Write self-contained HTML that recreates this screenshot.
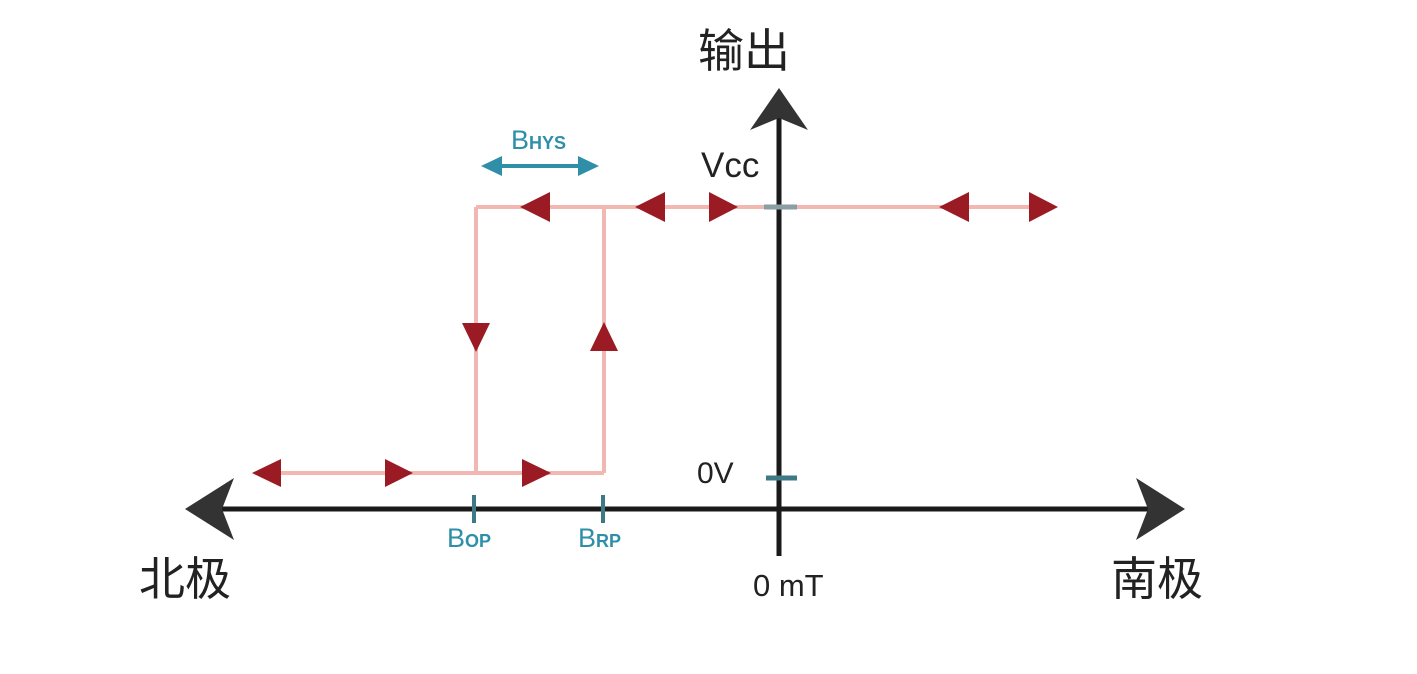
<!DOCTYPE html>
<html><head><meta charset="utf-8"><style>
html,body{margin:0;padding:0;background:#fff;}
svg{display:block;}
text{font-family:"Liberation Sans","Noto Sans CJK SC",sans-serif;}
</style></head><body>
<svg width="1417" height="674" viewBox="0 0 1417 674" xmlns="http://www.w3.org/2000/svg">
<g stroke="#f2b7b0" stroke-width="4" fill="none">
<line x1="476" y1="207" x2="1050" y2="207"/>
<line x1="476" y1="207" x2="476" y2="473"/>
<line x1="604" y1="207" x2="604" y2="473"/>
<line x1="258" y1="473" x2="604" y2="473"/>
</g>
<g fill="#9b1b24">
<polygon points="252,473 281,459 281,487"/>
<polygon points="413,473 385,459 385,487"/>
<polygon points="551,473 522,459 522,487"/>
<polygon points="476,352 462,323 490,323"/>
<polygon points="604,322 590,351 618,351"/>
<polygon points="520,207 550,192 550,222"/>
<polygon points="635,207 665,192 665,222"/>
<polygon points="738,207 709,192 709,222"/>
<polygon points="939,207 969,192 969,222"/>
<polygon points="1058,207 1029,192 1029,222"/>
</g>
<g stroke="#1a1a1a" stroke-width="5" fill="none">
<line x1="200" y1="509" x2="1170" y2="509"/>
<line x1="779" y1="110" x2="779" y2="556"/>
</g>
<g fill="#333">
<polygon points="185,509 234,478 222,509 234,540"/>
<polygon points="1185,509 1136,478 1148,509 1136,540"/>
<polygon points="779,88 808,130 779,118 750,130"/>
</g>
<line x1="764" y1="207" x2="797" y2="207" stroke="#8a9ea4" stroke-width="5"/>
<line x1="766" y1="478" x2="797" y2="478" stroke="#3e7a86" stroke-width="5"/>
<line x1="474" y1="495" x2="474" y2="523" stroke="#3e7a86" stroke-width="4"/>
<line x1="603" y1="495" x2="603" y2="523" stroke="#3e7a86" stroke-width="4"/>
<line x1="495" y1="166" x2="585" y2="166" stroke="#2f8fa8" stroke-width="4"/>
<polygon points="481,166 502,156 502,176" fill="#2f8fa8"/>
<polygon points="599,166 578,156 578,176" fill="#2f8fa8"/>
<text x="511" y="149" font-size="27" fill="#2f8fa8">B<tspan font-size="18" font-weight="bold">HYS</tspan></text>
<text x="447" y="547" font-size="27" fill="#2f8fa8">B<tspan font-size="18" font-weight="bold">OP</tspan></text>
<text x="578" y="547" font-size="27" fill="#2f8fa8">B<tspan font-size="18" font-weight="bold">RP</tspan></text>
<text x="701" y="177" font-size="35" fill="#222">Vcc</text>
<text x="697" y="483" font-size="30" fill="#222">0V</text>
<text x="753" y="596" font-size="31" fill="#222">0 mT</text>
<text x="698" y="67" font-size="46" fill="#222">输出</text>
<text x="139" y="595" font-size="46" fill="#222">北极</text>
<text x="1111" y="595" font-size="46" fill="#222">南极</text>
</svg>
</body></html>
